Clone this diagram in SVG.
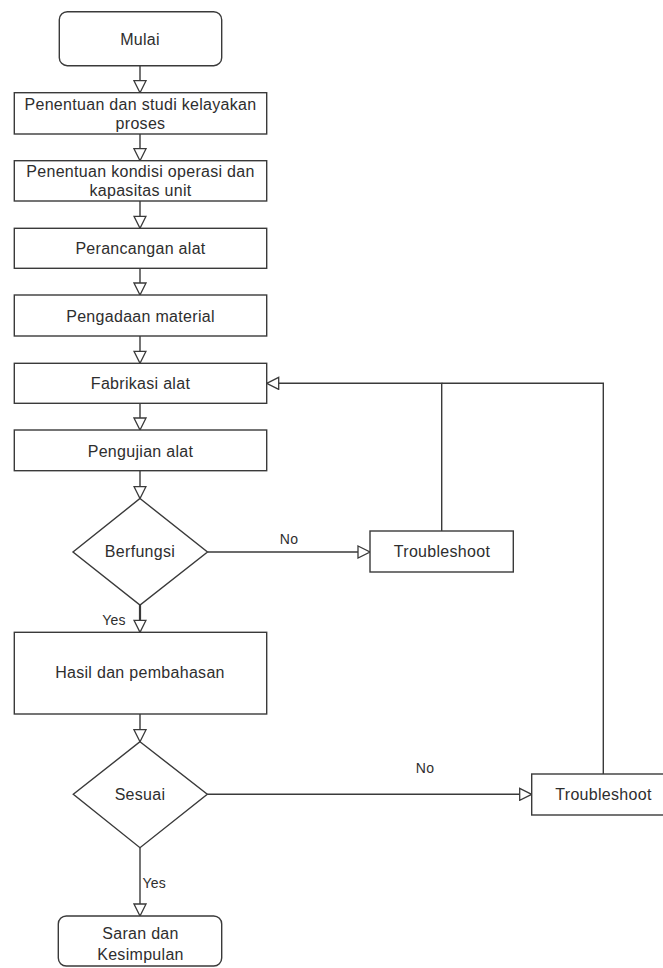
<svg xmlns="http://www.w3.org/2000/svg" width="663" height="968" viewBox="0 0 663 968">
<style>
.n{fill:#fff;stroke:#3a3a3a;stroke-width:1.4}
.t{font-family:"Liberation Sans",Arial,sans-serif;font-size:16px;fill:#2e2e2e;text-anchor:middle;letter-spacing:0.3px}
.l{font-family:"Liberation Sans",Arial,sans-serif;font-size:14px;fill:#2e2e2e;letter-spacing:0.2px}
.c{fill:none;stroke:#3a3a3a;stroke-width:1.4}
</style>
<defs>
<marker id="a" viewBox="0 0 14 14" refX="13" refY="7" markerWidth="14" markerHeight="14" markerUnits="userSpaceOnUse" orient="auto">
<path d="M1,1 L13,7 L1,13 z" fill="#fff" stroke="#3a3a3a" stroke-width="1.3"/>
</marker>
</defs>
<rect width="663" height="968" fill="#fff"/>
<g id="connectors">
<path class="c" d="M140,66 V92.7" marker-end="url(#a)"/>
<path class="c" d="M140,134 V160.7" marker-end="url(#a)"/>
<path class="c" d="M140,201 V228.3" marker-end="url(#a)"/>
<path class="c" d="M140,268.3 V295" marker-end="url(#a)"/>
<path class="c" d="M140,336 V363.3" marker-end="url(#a)"/>
<path class="c" d="M140,403.3 V430" marker-end="url(#a)"/>
<path class="c" d="M140,470.7 V498.5" marker-end="url(#a)"/>
<path class="c" d="M207.5,552 H370" marker-end="url(#a)"/>
<path class="c" style="stroke-width:2.2" d="M140,605 V632.3" marker-end="url(#a)"/>
<path class="c" d="M140,714 V741.7" marker-end="url(#a)"/>
<path class="c" d="M207.3,794.3 H531.7" marker-end="url(#a)"/>
<path class="c" d="M140,847.7 V916" marker-end="url(#a)"/>
<path class="c" d="M441.7,531 V383.3 H266.7" marker-end="url(#a)"/>
<path class="c" d="M603.3,774 V383.3 H441.7"/>
<text class="l" x="289" y="543.5" text-anchor="middle">No</text>
<text class="l" x="114" y="624.5" text-anchor="middle">Yes</text>
<text class="l" x="425" y="773" text-anchor="middle">No</text>
<text class="l" x="142.5" y="888">Yes</text>
</g>
<g id="mulai">
<rect class="n" x="59.3" y="11.7" width="162.4" height="54" rx="8"/>
<text class="t" x="140" y="45">Mulai</text>
</g>
<g id="studi">
<rect class="n" x="14.3" y="92.7" width="252.4" height="41.3"/>
<text class="t" x="140.5" y="109.5">Penentuan dan studi kelayakan</text>
<text class="t" x="140.5" y="128.8">proses</text>
</g>
<g id="kondisi">
<rect class="n" x="14.3" y="160.7" width="252.4" height="40.3"/>
<text class="t" x="140.5" y="176.5">Penentuan kondisi operasi dan</text>
<text class="t" x="140.5" y="195.5">kapasitas unit</text>
</g>
<g id="perancangan">
<rect class="n" x="14.3" y="228.3" width="252.4" height="40"/>
<text class="t" x="140.5" y="254">Perancangan alat</text>
</g>
<g id="pengadaan">
<rect class="n" x="14.3" y="295" width="252.4" height="41"/>
<text class="t" x="140.5" y="321.5">Pengadaan material</text>
</g>
<g id="fabrikasi">
<rect class="n" x="14.3" y="363.3" width="252.4" height="40"/>
<text class="t" x="140.5" y="389">Fabrikasi alat</text>
</g>
<g id="pengujian">
<rect class="n" x="14.3" y="430" width="252.4" height="40.7"/>
<text class="t" x="140.5" y="456.5">Pengujian alat</text>
</g>
<g id="berfungsi">
<polygon class="n" points="140,498.5 207.5,552 140,605 73,552"/>
<text class="t" x="140" y="557">Berfungsi</text>
</g>
<g id="troubleshoot1">
<rect class="n" x="370" y="531" width="143.3" height="41"/>
<text class="t" x="442" y="557">Troubleshoot</text>
</g>
<g id="hasil">
<rect class="n" x="14.3" y="632.3" width="252.4" height="81.7"/>
<text class="t" x="140" y="678">Hasil dan pembahasan</text>
</g>
<g id="sesuai">
<polygon class="n" points="140,741.7 207.3,794.3 140,847.7 73.3,794.3"/>
<text class="t" x="140" y="800">Sesuai</text>
</g>
<g id="troubleshoot2">
<rect class="n" x="531.7" y="774" width="140" height="41"/>
<text class="t" x="603.5" y="800">Troubleshoot</text>
</g>
<g id="saran">
<rect class="n" x="58.3" y="916" width="163.4" height="50" rx="8"/>
<text class="t" x="140.5" y="939">Saran dan</text>
<text class="t" x="140.5" y="959.5">Kesimpulan</text>
</g>
</svg>
